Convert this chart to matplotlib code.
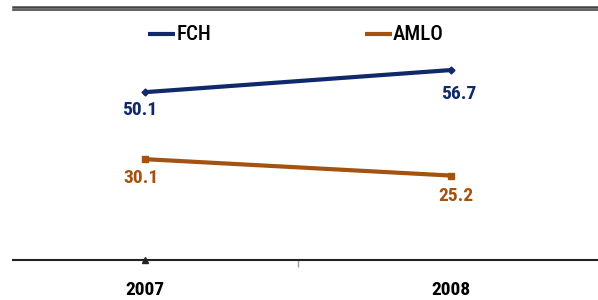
import matplotlib
matplotlib.use("Agg")
import matplotlib.pyplot as plt
from matplotlib.lines import Line2D

years = ["2007", "2008"]
fch = [50.1, 56.7]
amlo = [30.1, 25.2]
series_names = ["FCH", "AMLO"]

narrow = ["Roboto Condensed", "Liberation Sans", "DejaVu Sans"]
c_fch = "#10296b"
c_amlo = "#a3520f"

fig = plt.figure(figsize=(5.98, 3.0), dpi=100)
W, H = 598, 300
ax = fig.add_axes([13 / W, 1 - 260 / H, 585 / W, (260 - 25.5) / H])
x = list(range(len(years)))
ax.plot(x, fch, color=c_fch, lw=3.0, marker="D", ms=3.5, solid_capstyle="butt")
ax.plot(x, amlo, color=c_amlo, lw=3.0, marker="s", ms=4.5, solid_capstyle="butt")
ax.set_xlim((13 - 145) / 306, (598 - 145) / 306)
ax.set_ylim(0, 70)
for s in ["top", "left", "right"]:
    ax.spines[s].set_visible(False)
ax.spines["bottom"].set_color("#222222")
ax.spines["bottom"].set_linewidth(1.5)
ax.set_yticks([])
ax.set_xticks([0.5])
ax.set_xticklabels([""])
ax.tick_params(axis="x", length=5, width=1, color="#999999")
for xi, yr in zip(x, years):
    ax.annotate(yr, (xi, 0), xytext=(0, -15), textcoords="offset points",
                ha="center", va="top", fontsize=14, fontweight="bold",
                family=narrow, color="black", annotation_clip=False)
ax.annotate("", (0, 0), xytext=(0, 0), textcoords="offset points")
ax.plot([0], [0], marker="^", color="#222222", ms=5, clip_on=False,
        markevery=None)

# value labels (offsets in points)
for xi, v, (dx, dy) in zip(x, fch, [(-3.6, -13), (5.8, -17)]):
    ax.annotate(f"{v:.1f}", (xi, v), xytext=(dx, dy), textcoords="offset points",
                ha="center", va="center", fontsize=14, fontweight="bold",
                family=narrow, color=c_fch)
for xi, v, (dx, dy) in zip(x, amlo, [(-2.9, -13.7), (3.6, -15)]):
    ax.annotate(f"{v:.1f}", (xi, v), xytext=(dx, dy), textcoords="offset points",
                ha="center", va="center", fontsize=14, fontweight="bold",
                family=narrow, color=c_amlo)

# legend (manual, figure coordinates)
for (x0, x1, tx), name, col in zip([(148, 175, 177), (365, 392, 393)], series_names, [c_fch, c_amlo]):
    fig.add_artist(Line2D([x0 / W, x1 / W], [1 - 34 / H, 1 - 34 / H], color=col, lw=3.0,
                          solid_capstyle="butt"))
    fig.text(tx / W, 1 - 34 / H, name, ha="left", va="center", fontsize=15,
             family=narrow, fontweight="medium", color="black")

# header rules
for yy, lw in [(6.5, 1.8), (10, 1.2)]:
    fig.add_artist(Line2D([13 / W, 1], [1 - yy / H, 1 - yy / H], color="#444444", lw=lw))

fig.savefig("out.png", dpi=100)
